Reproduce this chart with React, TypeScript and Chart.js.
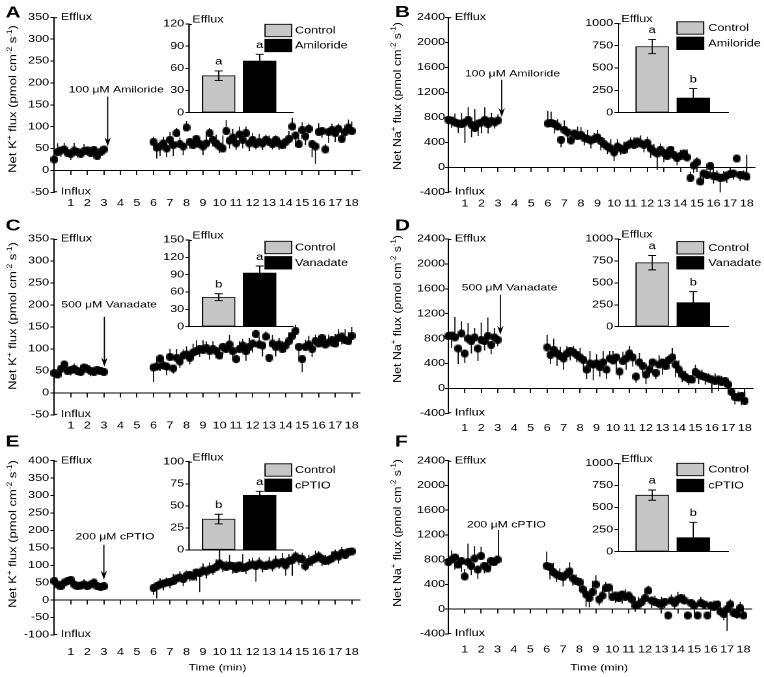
import React, { useEffect, useRef } from "react";
import { Chart, registerables } from "chart.js";

Chart.register(...registerables);

// horizontal stretch of the original figure (text looks wide)
const S = 1.3;
const FONT = "'Liberation Sans', Arial, Helvetica, sans-serif";
const GRAY = "#c6c6c6";
const INK = "#000000";

// ---------------- data ----------------
const TIME_BEFORE = [0, 0.2, 0.4, 0.6, 0.8, 1.0, 1.2, 1.4, 1.6, 1.8, 2.0, 2.2, 2.4, 2.6, 2.8, 3.0];
const TIME_AFTER = [
  6.0, 6.2, 6.4, 6.6, 6.8, 7.0, 7.2, 7.4, 7.6, 7.8, 8.0, 8.2, 8.4, 8.6, 8.8, 9.0, 9.2, 9.4, 9.6, 9.8,
  10.0, 10.2, 10.4, 10.6, 10.8, 11.0, 11.2, 11.4, 11.6, 11.8, 12.0, 12.2, 12.4, 12.6, 12.8, 13.0, 13.2, 13.4, 13.6, 13.8,
  14.0, 14.2, 14.4, 14.6, 14.8, 15.0, 15.2, 15.4, 15.6, 15.8, 16.0, 16.2, 16.4, 16.6, 16.8, 17.0, 17.2, 17.4, 17.6, 17.8, 18.0,
];

// A: K+ flux, amiloride
const K_AMI_BEFORE = [25, 42, 46, 48, 40, 38, 45, 42, 38, 44, 46, 40, 47, 33, 42, 48];
const K_AMI_BEFORE_SE = [-8, 20, -15, 15, 12, -14, 18, -12, 10, 16, -12, 14, -10, 14, 12, -8];
const K_AMI_AFTER = [
  65, 52, 55, 62, 50, 70, 58, 85, 60, 55, 98, 65, 58, 72, 60, 55, 62, 85, 70, 62,
  55, 50, 90, 68, 75, 62, 82, 70, 85, 62, 70, 60, 65, 62, 70, 65, 60, 70, 62, 58,
  65, 72, 100, 80, 60, 92, 78, 95, 60, 55, 88, 90, 48, 88, 92, 85, 95, 72, 88, 98, 90,
];
const K_AMI_AFTER_SE = [
  12, -25, -22, 15, -20, 18, -25, 12, 15, -20, 15, -15, 20, -18, 15, -20, 18, 12, -15, 20,
  -15, 30, 25, -18, 20, -15, 18, -20, 15, -18, 15, -12, 18, -15, 12, 15, -12, 10, -15, 12,
  -15, 18, 20, -25, 15, 18, -20, 12, -30, -40, 20, -15, 12, -25, 15, -20, 12, 18, -15, 18, 22,
];
const K_AMI_MEANS = [50, 70];
const K_AMI_SEM = [6.5, 9];
const K_AMI_LETTERS = ["a", "a"];

// B: Na+ flux, amiloride
const NA_AMI_BEFORE = [760, 750, 720, 700, 690, 720, 760, 680, 630, 700, 720, 760, 690, 740, 720, 750];
const NA_AMI_BEFORE_SE = [150, -120, 140, -150, 180, -330, 200, -200, 300, -200, -180, 200, -150, 130, -100, 100];
const NA_AMI_AFTER = [
  700, 710, 690, 650, 440, 600, 560, 430, 540, 500, 520, 470, 450, 430, 450, 480, 420, 370, 330, 300,
  240, 330, 300, 280, 350, 380, 360, 410, 380, 360, 390, 300, 250, 220, 280, 230, 180, 280, 200, 150,
  180, 220, 160, -170, 30, 80, -230, -100, -120, 20, -140, -150, -170, -160, -130, -110, -100, 140, -120, -130, -150,
];
const NA_AMI_AFTER_SE = [
  200, 180, -150, 120, -120, 150, -150, 120, -130, 150, 120, -120, 150, -130, 100, 120, -150, 100, -120, 150,
  -140, 120, -100, 130, -120, 100, 120, -100, 130, -120, 100, -150, 120, -260, 100, -150, 120, -100, 130, -120,
  100, -100, 130, 100, -120, 80, 100, -150, 100, -130, -120, 100, -230, 100, -120, 80, -100, 60, -100, 80, 350,
];
const NA_AMI_MEANS = [740, 165];
const NA_AMI_SEM = [80, 105];
const NA_AMI_LETTERS = ["a", "b"];

// C: K+ flux, vanadate
const K_VAN_BEFORE = [45, 42, 55, 65, 50, 52, 55, 50, 48, 58, 55, 50, 48, 52, 50, 48];
const K_VAN_BEFORE_SE = [-22, 12, -15, 8, 10, -12, 12, -10, 15, -14, 10, -12, 12, -10, 8, -6];
const K_VAN_AFTER = [
  58, 60, 78, 62, 60, 82, 56, 80, 72, 85, 88, 80, 92, 95, 100, 98, 102, 96, 100, 95,
  85, 105, 100, 110, 95, 77, 100, 108, 95, 105, 112, 134, 110, 108, 128, 80, 112, 105, 110, 100,
  108, 118, 130, 141, 105, 77, 105, 110, 100, 118, 112, 125, 110, 115, 120, 112, 125, 128, 120, 118, 130,
];
const K_VAN_AFTER_SE = [
  -33, 15, -28, 12, -20, 18, -12, 20, -15, 14, 18, -15, 20, 25, -18, 22, 15, -20, 18, -15,
  20, -18, 15, 22, -20, -10, 18, 15, -22, 20, -20, 10, 18, -25, 12, -10, 20, -22, 15, 18,
  -15, 20, 15, 14, -25, -30, 15, 20, -18, 15, 18, -15, 20, 18, -15, 22, 20, -18, 25, 20, 20,
];
const K_VAN_MEANS = [51, 93];
const K_VAN_SEM = [6, 12];
const K_VAN_LETTERS = ["b", "a"];

// D: Na+ flux, vanadate
const NA_VAN_BEFORE = [840, 850, 820, 640, 880, 560, 800, 760, 820, 640, 780, 760, 840, 700, 820, 780];
const NA_VAN_BEFORE_SE = [150, -200, 330, -250, 200, -150, 250, -200, 150, -200, 280, -150, 300, -150, 150, -100];
const NA_VAN_AFTER = [
  660, 540, 620, 560, 520, 480, 560, 600, 580, 540, 500, 460, 300, 400, 380, 400, 340, 420, 300, 480,
  450, 500, 270, 440, 480, 560, 500, 190, 420, 360, 220, 300, 420, 250, 380, 420, 360, 460, 500, 380,
  300, 220, 180, 150, 140, 260, 220, 200, 180, 160, 140, 120, 140, 100, 120, 60, -60, -140, -150, -120, -200,
];
const NA_VAN_AFTER_SE = [
  200, -150, 180, -200, 150, -180, 120, -150, 100, -120, 150, -180, -150, 200, -250, 150, -150, 180, -150, 120,
  150, -200, -120, 150, -180, 120, -150, -100, 150, -120, -150, 150, -180, -100, 150, -200, 120, -150, 150, -200,
  150, -120, 100, -100, 80, 120, -150, 100, -120, 80, -150, 120, -180, 100, -100, 80, -100, -120, 100, -150, 150,
];
const NA_VAN_MEANS = [730, 275];
const NA_VAN_SEM = [82, 125];
const NA_VAN_LETTERS = ["a", "b"];

// E: K+ flux, cPTIO
const K_CPT_BEFORE = [55, 45, 40, 50, 55, 58, 45, 40, 42, 45, 40, 45, 50, 40, 38, 40];
const K_CPT_BEFORE_SE = [12, -15, 10, -12, 8, 10, -14, 12, -12, 15, -10, 12, -10, 12, -8, 6];
const K_CPT_AFTER = [
  35, 40, 45, 48, 50, 52, 55, 62, 65, 60, 70, 72, 68, 80, 78, 85, 82, 88, 90, 95,
  105, 100, 95, 100, 98, 90, 100, 92, 95, 100, 102, 98, 105, 100, 98, 102, 100, 108, 105, 110,
  100, 112, 115, 125, 120, 118, 98, 110, 115, 120, 125, 118, 112, 115, 120, 130, 125, 135, 130, 138, 140,
];
const K_CPT_AFTER_SE = [
  -20, -35, 18, -20, 15, -18, 20, -15, 18, -20, 15, -18, 20, -25, -55, 20, -20, 20, -18, 22,
  50, -20, 18, 30, -22, 20, -18, 40, -20, 18, 20, -45, 18, -20, 15, 22, -18, 20, -15, 25,
  -30, 20, -45, 15, -20, 18, -15, 20, -18, 22, 15, -20, 18, -15, 20, 15, -20, 18, 15, -15, 10,
];
const K_CPT_MEANS = [35, 62];
const K_CPT_SEM = [5.5, 4.5];
const K_CPT_LETTERS = ["b", "a"];

// F: Na+ flux, cPTIO
const NA_CPT_BEFORE = [760, 800, 840, 720, 780, 530, 760, 700, 820, 640, 860, 700, 660, 780, 760, 800];
const NA_CPT_BEFORE_SE = [-250, 150, -200, 150, -180, 120, 300, -150, 200, -150, 150, -120, 100, -100, 80, 60];
const NA_CPT_AFTER = [
  700, 680, 600, 560, 540, 520, 560, 610, 500, 460, 440, 320, 240, 180, 280, 400, 160, 220, 340, 350,
  200, 220, 180, 240, 200, 220, 160, 60, 80, 120, 180, 300, 140, 120, 100, 80, 120, -100, 140, 100,
  160, 180, 140, -100, 100, 60, -100, 100, 80, -100, 60, 40, 80, -40, -80, 0, 80, -60, -80, 20, -100,
];
const NA_CPT_AFTER_SE = [
  230, -200, 150, -120, 120, -150, 100, 150, -120, 100, -150, 120, -200, -150, 180, 150, -100, 120, 100, -120,
  150, -120, 100, -150, 120, -100, 80, -100, 120, -80, 100, 80, -120, 100, -80, 120, -100, 50, 100, -100,
  120, -80, 100, 50, -100, 80, 50, 100, -80, 40, -80, 100, -60, 80, -100, -350, 80, 60, -80, 100, 40,
];
const NA_CPT_MEANS = [640, 160];
const NA_CPT_SEM = [58, 172];
const NA_CPT_LETTERS = ["a", "b"];

// ---------------- panel setup (layout in screen px) ----------------
const LEFT = { cx: 0, cw: 380, axisX: 54.3, rightX: 360, ix: 150, iw: 230, iAxisX: 189.3, iRight: 293, iMin: 0.283, iMax: 2.812, legX: 265, legTextX: 295, tickPad: 1, tickLen: 3, titleX: 13.6, letterX: 5.5, timeX: 217.5 };
const RIGHT = { cx: 380, cw: 384, axisX: 448.3, rightX: 755, ix: 560, iw: 204, iAxisX: 618.3, iRight: 728.3, iMin: 0.175, iMax: 2.852, legX: 677, legTextX: 708.3, tickPad: 0, tickLen: 2.5, titleX: 397.8, letterX: 395, timeX: 599.2 };

const PANELS: any[] = [
  { ...LEFT, letter: "A", ion: "K", drug: "Amiloride", dose: "100", before: K_AMI_BEFORE, beforeSe: K_AMI_BEFORE_SE, after: K_AMI_AFTER, afterSe: K_AMI_AFTER_SE, means: K_AMI_MEANS, sem: K_AMI_SEM, letters: K_AMI_LETTERS,
    yMin: -50, yMax: 350, yStep: 50, insetMax: 120, insetStep: 30,
    arrowX: 3.23, arrowFrom: 169, arrowTo: 55, arrowHead: true, labelX: 3.75, labelY: 184,
    cy: 0, ch: 220, top: 17.3, bottom: 192.3, labelOff: 11, letterY: 13, titleY: 99,
    iy: 0, ih: 125, iTop: 24, iBottom: 112.7, legRows: [30.5, 45.5] },
  { ...RIGHT, letter: "B", ion: "Na", drug: "Amiloride", dose: "100", before: NA_AMI_BEFORE, beforeSe: NA_AMI_BEFORE_SE, after: NA_AMI_AFTER, afterSe: NA_AMI_AFTER_SE, means: NA_AMI_MEANS, sem: NA_AMI_SEM, letters: NA_AMI_LETTERS,
    yMin: -400, yMax: 2400, yStep: 400, insetMax: 1000, insetStep: 250,
    arrowX: 3.22, arrowFrom: 1400, arrowTo: 804, arrowHead: true, labelX: 3.87, labelY: 1495,
    cy: 0, ch: 220, top: 17.3, bottom: 192.3, labelOff: 11.7, letterY: 12.5, titleY: 96,
    iy: 0, ih: 125, iTop: 23.3, iBottom: 112.7, legRows: [28, 43.3] },
  { ...LEFT, letter: "C", ion: "K", drug: "Vanadate", dose: "500", before: K_VAN_BEFORE, beforeSe: K_VAN_BEFORE_SE, after: K_VAN_AFTER, afterSe: K_VAN_AFTER_SE, means: K_VAN_MEANS, sem: K_VAN_SEM, letters: K_VAN_LETTERS,
    yMin: -50, yMax: 350, yStep: 50, insetMax: 150, insetStep: 30,
    arrowX: 3.03, arrowFrom: 173, arrowTo: 60, arrowHead: true, labelX: 3.32, labelY: 200,
    cy: 215, ch: 222, top: 239, bottom: 415, labelOff: 10.7, letterY: 226, titleY: 316,
    iy: 215, ih: 125, iTop: 240, iBottom: 326.7, legRows: [247.5, 262.8] },
  { ...RIGHT, letter: "D", ion: "Na", drug: "Vanadate", dose: "500", before: NA_VAN_BEFORE, beforeSe: NA_VAN_BEFORE_SE, after: NA_VAN_AFTER, afterSe: NA_VAN_AFTER_SE, means: NA_VAN_MEANS, sem: NA_VAN_SEM, letters: NA_VAN_LETTERS,
    yMin: -400, yMax: 2400, yStep: 400, insetMax: 1000, insetStep: 250,
    arrowX: 3.16, arrowFrom: 1504, arrowTo: 861, arrowHead: true, labelX: 3.72, labelY: 1611,
    cy: 215, ch: 222, top: 239, bottom: 413.3, labelOff: 15, letterY: 226, titleY: 309,
    iy: 215, ih: 125, iTop: 239, iBottom: 326.7, legRows: [247.8, 262.8] },
  { ...LEFT, letter: "E", ion: "K", drug: "cPTIO", dose: "200", before: K_CPT_BEFORE, beforeSe: K_CPT_BEFORE_SE, after: K_CPT_AFTER, afterSe: K_CPT_AFTER_SE, means: K_CPT_MEANS, sem: K_CPT_SEM, letters: K_CPT_LETTERS,
    yMin: -100, yMax: 400, yStep: 50, insetMax: 100, insetStep: 25,
    arrowX: 3.0, arrowFrom: 159, arrowTo: 59, arrowHead: true, labelX: 3.67, labelY: 182,
    cy: 430, ch: 247, top: 460.7, bottom: 635, labelOff: 17.3, letterY: 442, titleY: 534, timeY: 667.7,
    iy: 440, ih: 125, iTop: 461.7, iBottom: 550, legRows: [470, 485.3] },
  { ...RIGHT, letter: "F", ion: "Na", drug: "cPTIO", dose: "200", before: NA_CPT_BEFORE, beforeSe: NA_CPT_BEFORE_SE, after: NA_CPT_AFTER, afterSe: NA_CPT_AFTER_SE, means: NA_CPT_MEANS, sem: NA_CPT_SEM, letters: NA_CPT_LETTERS,
    yMin: -400, yMax: 2400, yStep: 400, insetMax: 1000, insetStep: 250,
    arrowX: 3.06, arrowFrom: 1280, arrowTo: 767, arrowHead: false, labelX: 3.54, labelY: 1360,
    cy: 430, ch: 247, top: 460.7, bottom: 634, labelOff: 16, letterY: 442, titleY: 533, timeY: 667.7,
    iy: 440, ih: 125, iTop: 463.3, iBottom: 551.7, legRows: [469.5, 485.5] },
];

// ---------------- helpers ----------------
function makeMarker() {
  const c = document.createElement("canvas");
  c.width = 6;
  c.height = 8;
  const g = c.getContext("2d")!;
  g.fillStyle = INK;
  g.beginPath();
  g.ellipse(3, 4, 3, 4, 0, 0, Math.PI * 2);
  g.fill();
  return c;
}

const plain = (v: number | string) => String(v);

function drawYTitle(ctx: CanvasRenderingContext2D, cx: number, cy: number, ion: string, sx: number) {
  const segs: [string, boolean][] = [
    ["Net " + ion, false], ["+", true], [" flux (pmol cm", false], ["-2", true], [" s", false], ["-1", true], [")", false],
  ];
  const measure = (f: number) =>
    segs.reduce((acc, [t, sup]) => {
      ctx.font = `${sup ? f * 0.62 : f}px ${FONT}`;
      return acc + ctx.measureText(t).width;
    }, 0);
  let f = 12;
  f = (f * 148) / measure(f);
  const total = measure(f);
  const k = 7.6 / (0.716 * f * sx);
  ctx.save();
  ctx.translate(cx, cy);
  ctx.rotate(-Math.PI / 2);
  ctx.scale(1, k);
  ctx.fillStyle = INK;
  ctx.textAlign = "left";
  ctx.textBaseline = "middle";
  let pos = -total / 2;
  for (const [t, sup] of segs) {
    const fs = sup ? f * 0.62 : f;
    ctx.font = `${fs}px ${FONT}`;
    ctx.fillText(t, pos, sup ? -f * 0.36 : 0);
    pos += ctx.measureText(t).width;
  }
  ctx.restore();
}

function internalWidth(w: number) {
  return Math.round(w / S);
}

function mainConfig(p: any, marker: HTMLCanvasElement): any {
  const iw = internalWidth(p.cw);
  const sx = p.cw / iw;
  const xh = p.labelOff + 8;
  const tickFont = { family: FONT, size: 9.7 };
  const mk = (t: number[], v: number[], e: number[]) => ({
    data: t.map((x, i) => ({ x, y: v[i] })),
    errors: e,
    pointStyle: marker,
    pointRadius: 3.5,
    pointHoverRadius: 3.5,
    pointBorderWidth: 0,
    backgroundColor: INK,
    borderColor: INK,
    showLine: false,
    clip: false,
  });
  const decor = {
    id: "decor" + p.letter,
    beforeDatasetsDraw(chart: any) {
      const ctx = chart.ctx;
      const ys = chart.scales.y;
      ctx.save();
      ctx.strokeStyle = INK;
      ctx.lineWidth = 0.85;
      chart.data.datasets.forEach((d: any, di: number) => {
        const meta = chart.getDatasetMeta(di);
        meta.data.forEach((el: any, j: number) => {
          const e = d.errors ? d.errors[j] : 0;
          if (!e) return;
          const v = d.data[j].y;
          ctx.beginPath();
          ctx.moveTo(el.x, el.y);
          ctx.lineTo(el.x, ys.getPixelForValue(v + e));
          ctx.stroke();
        });
      });
      ctx.restore();
    },
    afterDraw(chart: any) {
      const ctx = chart.ctx;
      const ca = chart.chartArea;
      const xs = chart.scales.x;
      const ys = chart.scales.y;
      ctx.save();
      ctx.fillStyle = INK;
      ctx.strokeStyle = INK;
      ctx.lineWidth = 1;
      // hooks at axis ends
      ctx.beginPath();
      ctx.moveTo(ca.left, ca.top + 0.5);
      ctx.lineTo(ca.left + 3 / sx, ca.top + 0.5);
      ctx.moveTo(ca.left, ca.bottom - 0.5);
      ctx.lineTo(ca.left + 3 / sx, ca.bottom - 0.5);
      ctx.stroke();
      // Efflux / Influx
      ctx.font = `9.7px ${FONT}`;
      ctx.textAlign = "left";
      ctx.textBaseline = "middle";
      ctx.fillText("Efflux", ca.left + 6.5 / sx, ca.top);
      ctx.fillText("Influx", ca.left + 6.5 / sx, ca.bottom - 0.5);
      // treatment arrow
      const ax = xs.getPixelForValue(p.arrowX);
      const y1 = ys.getPixelForValue(p.arrowFrom);
      const y2 = ys.getPixelForValue(p.arrowTo);
      ctx.lineWidth = 0.9;
      ctx.beginPath();
      ctx.moveTo(ax, y1);
      ctx.lineTo(ax, p.arrowHead ? y2 - 4 : y2);
      ctx.stroke();
      if (p.arrowHead) {
        ctx.beginPath();
        ctx.moveTo(ax, y2);
        ctx.lineTo(ax - 3.2 / sx, y2 - 9);
        ctx.lineTo(ax, y2 - 6);
        ctx.lineTo(ax + 3.2 / sx, y2 - 9);
        ctx.closePath();
        ctx.fill();
      }
      ctx.font = `9.4px ${FONT}`;
      ctx.textAlign = "center";
      ctx.fillText(`${p.dose} \u03BCM ${p.drug}`, xs.getPixelForValue(p.labelX), ys.getPixelForValue(p.labelY));
      // panel letter
      ctx.font = `bold 16px ${FONT}`;
      ctx.textAlign = "left";
      ctx.fillText(p.letter, (p.letterX - p.cx) / sx, p.letterY - p.cy);
      // axis titles
      drawYTitle(ctx, (p.titleX - p.cx) / sx, p.titleY - p.cy, p.ion, sx);
      if (p.timeY) {
        ctx.font = `9.4px ${FONT}`;
        ctx.textAlign = "center";
        ctx.fillText("Time (min)", (p.timeX - p.cx) / sx, p.timeY - p.cy);
      }
      ctx.restore();
    },
  };
  return {
    type: "scatter",
    data: {
      datasets: [mk(TIME_BEFORE, p.before, p.beforeSe), mk(TIME_AFTER, p.after, p.afterSe)],
    },
    options: {
      animation: false,
      responsive: false,
      devicePixelRatio: 2,
      events: [],
      layout: {
        padding: {
          left: 0,
          top: p.top - p.cy,
          right: (p.cx + p.cw - p.rightX) / sx,
          bottom: p.cy + p.ch - p.bottom - xh,
        },
      },
      plugins: { legend: { display: false }, tooltip: { enabled: false } },
      scales: {
        x: {
          type: "linear",
          position: "bottom",
          min: 0,
          max: 18.5,
          afterFit: (s: any) => {
            s.height = xh;
          },
          grid: { display: false, drawTicks: false },
          border: { display: false },
          ticks: {
            stepSize: 1,
            includeBounds: false,
            autoSkip: false,
            maxRotation: 0,
            padding: p.labelOff - 5.8,
            color: INK,
            font: tickFont,
            callback: (v: number) => (v === 0 ? "" : String(v)),
          },
        },
        x0: {
          type: "linear",
          position: { y: 0 },
          min: 0,
          max: 18.5,
          grid: { display: true, drawOnChartArea: false, drawTicks: true, tickLength: 4, color: INK, lineWidth: 0.9 },
          border: { display: true, color: INK, width: 1 },
          ticks: { display: false, stepSize: 1, includeBounds: false, autoSkip: false },
        },
        y: {
          type: "linear",
          position: "left",
          min: p.yMin,
          max: p.yMax,
          afterFit: (s: any) => {
            s.width = (p.axisX - p.cx) / sx;
          },
          grid: { display: true, drawOnChartArea: false, drawTicks: true, tickLength: p.tickLen, color: INK, lineWidth: 1 },
          border: { display: true, color: INK, width: 1 },
          ticks: { stepSize: p.yStep, padding: p.tickPad, color: INK, font: tickFont, autoSkip: false, callback: plain },
        },
      },
    },
    plugins: [decor],
  };
}

function insetConfig(p: any): any {
  const iw = internalWidth(p.iw);
  const sx = p.iw / iw;
  const tickFont = { family: FONT, size: 9.7 };
  const decor = {
    id: "inset" + p.letter,
    afterDatasetsDraw(chart: any) {
      const ctx = chart.ctx;
      const ca = chart.chartArea;
      const ys = chart.scales.y;
      const d = chart.data.datasets[0];
      const meta = chart.getDatasetMeta(0);
      ctx.save();
      ctx.strokeStyle = INK;
      ctx.fillStyle = INK;
      ctx.lineWidth = 0.9;
      meta.data.forEach((el: any, j: number) => {
        const m = d.data[j].y;
        const e = d.errors[j];
        const yt = ys.getPixelForValue(m + e);
        const yb = ys.getPixelForValue(Math.max(m - e, 0));
        const cap = 4 / sx;
        ctx.beginPath();
        ctx.moveTo(el.x, yt);
        ctx.lineTo(el.x, yb);
        ctx.moveTo(el.x - cap, yt);
        ctx.lineTo(el.x + cap, yt);
        if (m - e > 0) {
          ctx.moveTo(el.x - cap, yb);
          ctx.lineTo(el.x + cap, yb);
        }
        ctx.stroke();
        ctx.font = `10px ${FONT}`;
        ctx.textAlign = "center";
        ctx.textBaseline = "middle";
        ctx.fillText(d.letters[j], el.x, yt - 9);
      });
      // axis-end hook and label
      ctx.lineWidth = 1;
      ctx.beginPath();
      ctx.moveTo(ca.left, ca.top + 0.5);
      ctx.lineTo(ca.left + 2.5 / sx, ca.top + 0.5);
      ctx.stroke();
      ctx.font = `9.7px ${FONT}`;
      ctx.textAlign = "left";
      ctx.textBaseline = "middle";
      ctx.fillText("Efflux", ca.left + 3 / sx, ca.top - 4);
      // legend
      const entries: [string, string][] = [["Control", GRAY], [p.drug, INK]];
      const bw = 26.7 / sx;
      const bh = 12.4;
      entries.forEach(([label, color], k) => {
        const cy = p.legRows[k] - p.iy;
        const bx = (p.legX - p.ix) / sx;
        ctx.fillStyle = color;
        ctx.fillRect(bx, cy - bh / 2, bw, bh);
        ctx.strokeStyle = INK;
        ctx.lineWidth = 0.9;
        ctx.strokeRect(bx, cy - bh / 2, bw, bh);
        ctx.fillStyle = INK;
        ctx.fillText(label, (p.legTextX - p.ix) / sx, cy + 0.5);
      });
      ctx.restore();
    },
  };
  return {
    type: "bar",
    data: {
      datasets: [
        {
          data: [
            { x: 1, y: p.means[0] },
            { x: 2, y: p.means[1] },
          ],
          errors: p.sem,
          letters: p.letters,
          backgroundColor: [GRAY, INK],
          borderColor: INK,
          borderWidth: 0.9,
          borderSkipped: false,
          barThickness: 32.7 / sx,
        },
      ],
    },
    options: {
      animation: false,
      responsive: false,
      devicePixelRatio: 2,
      events: [],
      layout: {
        padding: {
          left: 0,
          top: p.iTop - p.iy,
          right: (p.ix + p.iw - p.iRight) / sx,
          bottom: p.iy + p.ih - p.iBottom,
        },
      },
      plugins: { legend: { display: false }, tooltip: { enabled: false } },
      scales: {
        x: {
          type: "linear",
          min: p.iMin,
          max: p.iMax,
          offset: false,
          afterFit: (s: any) => {
            s.height = 0;
          },
          grid: { display: false, drawTicks: false },
          border: { display: true, color: INK, width: 1 },
          ticks: { display: false },
        },
        y: {
          type: "linear",
          min: 0,
          max: p.insetMax,
          afterFit: (s: any) => {
            s.width = (p.iAxisX - p.ix) / sx;
          },
          grid: { display: true, drawOnChartArea: false, drawTicks: true, tickLength: 3, color: INK, lineWidth: 1 },
          border: { display: true, color: INK, width: 1 },
          ticks: { stepSize: p.insetStep, padding: 1, color: INK, font: tickFont, autoSkip: false, callback: plain },
        },
      },
    },
    plugins: [decor],
  };
}

export default function App() {
  const refs = useRef<(HTMLCanvasElement | null)[]>([]);

  useEffect(() => {
    const marker = makeMarker();
    const charts: Chart[] = [];
    PANELS.forEach((p, i) => {
      const mc = refs.current[2 * i];
      const ic = refs.current[2 * i + 1];
      if (mc) charts.push(new Chart(mc, mainConfig(p, marker)));
      if (ic) charts.push(new Chart(ic, insetConfig(p)));
    });
    return () => charts.forEach((c) => c.destroy());
  }, []);

  return (
    <div style={{ position: "absolute", left: 0, top: 0, width: 764, height: 677, background: "#fff", overflow: "hidden" }}>
      {PANELS.map((p, i) => (
        <React.Fragment key={p.letter}>
          <canvas
            ref={(el) => {
              refs.current[2 * i] = el;
            }}
            width={internalWidth(p.cw)}
            height={p.ch}
            style={{ position: "absolute", left: p.cx, top: p.cy, width: p.cw, height: p.ch }}
          />
          <canvas
            ref={(el) => {
              refs.current[2 * i + 1] = el;
            }}
            width={internalWidth(p.iw)}
            height={p.ih}
            style={{ position: "absolute", left: p.ix, top: p.iy, width: p.iw, height: p.ih }}
          />
        </React.Fragment>
      ))}
    </div>
  );
}
